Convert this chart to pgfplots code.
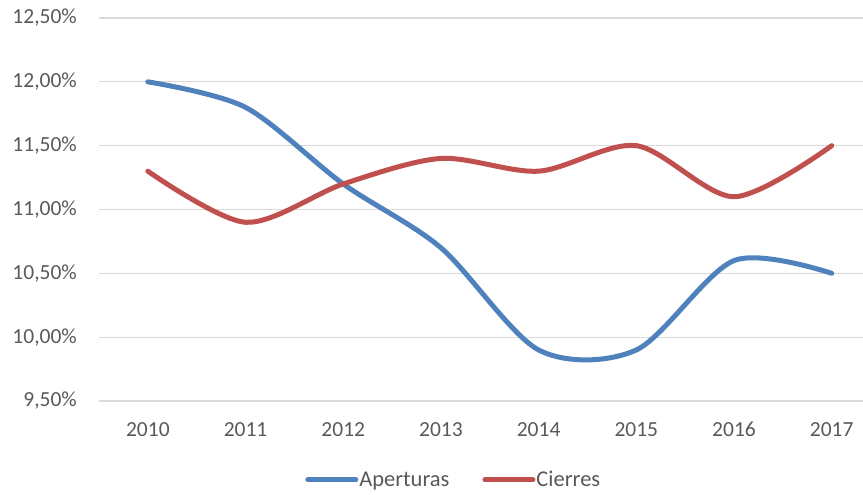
\documentclass[border=0pt]{standalone}
\usepackage{fontspec}
\setmainfont{Carlito}
\usepackage{pgfplots}
\pgfplotsset{compat=1.18}
\definecolor{ablue}{HTML}{4F81BD}
\definecolor{ared}{HTML}{C0504D}
\definecolor{gridc}{HTML}{D9D9D9}
\definecolor{txt}{HTML}{595959}
\begin{document}
\begin{tikzpicture}
\useasboundingbox (-99pt,-94pt) rectangle (764pt,401pt);
\begin{axis}[
  at={(0pt,0pt)}, anchor=south west,
  scale only axis, width=764pt, height=383pt,
  xmin=-0.5, xmax=7.32, ymin=9.5, ymax=12.5,
  xtick={0,1,2,3,4,5,6,7},
  xticklabels={2010,2011,2012,2013,2014,2015,2016,2017},
  ytick={9.5,10,10.5,11,11.5,12,12.5},
  /pgf/number format/assume math mode=true,
  yticklabel={\pgfmathprintnumber[fixed,fixed zerofill,precision=2,use comma]{\tick}\%},
  ymajorgrids, grid style={gridc, line width=1.3pt},
  axis line style={draw=none},
  major tick length=0pt,
  tick label style={font=\fontsize{21.5}{25}\selectfont, text=txt},
  yticklabel style={anchor=east, inner sep=0pt, xshift=-22pt},
  xticklabel style={anchor=base, inner sep=0pt, yshift=-36pt},
  legend columns=2,
  legend style={draw=none, at={(0.4637,-0.206)}, anchor=center,
    font=\fontsize{22.5}{26}\selectfont, text=txt,
    /tikz/every even column/.append style={column sep=32pt},
    nodes={inner sep=1pt}},
  legend image code/.code={\draw[#1, line width=5pt, line cap=round] (0pt,0pt) -- (48pt,0pt);},
]
\addplot[ablue, line width=5pt, line cap=round, smooth] coordinates {
  (0,12.0) (1,11.8) (2,11.2) (3,10.7) (4,9.9) (5,9.9) (6,10.6) (7,10.5)};
\addlegendentry{Aperturas}
\addplot[ared, line width=5pt, line cap=round, smooth] coordinates {
  (0,11.3) (1,10.9) (2,11.2) (3,11.4) (4,11.3) (5,11.5) (6,11.1) (7,11.5)};
\addlegendentry{Cierres}
\end{axis}
\end{tikzpicture}
\end{document}
